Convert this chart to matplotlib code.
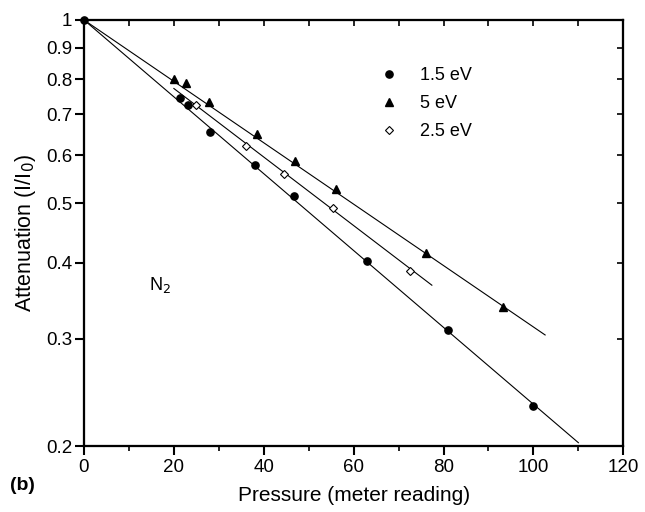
import numpy as np
import matplotlib
matplotlib.use("Agg")
import matplotlib.pyplot as plt
from matplotlib.ticker import FixedLocator, NullLocator, MultipleLocator

plt.rcParams['font.family'] = ['Liberation Sans', 'DejaVu Sans']

# Data
p_15 = [0, 21.4, 23.2, 28.0, 38.0, 46.7, 62.9, 81.1, 100.0]
a_15 = [1.0, 0.744, 0.726, 0.655, 0.579, 0.514, 0.4025, 0.310, 0.2324]

p_5 = [20.0, 22.6, 27.9, 38.5, 47.0, 56.0, 76.1, 93.2]
a_5 = [0.801, 0.787, 0.733, 0.651, 0.587, 0.529, 0.414, 0.338]

p_25 = [24.9, 36.0, 44.5, 55.3, 72.5]
a_25 = [0.725, 0.622, 0.559, 0.491, 0.3876]

# Fitted lines: log10 slope per unit pressure and plotted ranges
fit_15 = {"slope": -0.006305, "x0": 0.0, "x1": 110.0}
fit_5 = {"slope": -0.005037, "x0": 0.0, "x1": 102.6}
fit_25 = {"slope": -0.005622, "x0": 20.0, "x1": 77.4}

y_ticks = [0.2, 0.3, 0.4, 0.5, 0.6, 0.7, 0.8, 0.9, 1.0]
y_labels = ["0.2", "0.3", "0.4", "0.5", "0.6", "0.7", "0.8", "0.9", "1"]
x_ticks = [0, 20, 40, 60, 80, 100, 120]

fig = plt.figure(figsize=(6.45, 5.12), dpi=100)
ax = fig.add_axes([0.1302, 0.1289, 0.8362, 0.8321])
ax.set_yscale('log')
ax.set_xlim(0, 120)
ax.set_ylim(0.2, 1.0)

def fit_line(f):
    x = np.array([f["x0"], f["x1"]])
    return x, 10 ** (f["slope"] * x)

for f in (fit_15, fit_5, fit_25):
    x, y = fit_line(f)
    ax.plot(x, y, color='black', lw=0.8, zorder=2)

ax.plot(p_15, a_15, 'o', color='black', ms=5.2, ls='none', label='1.5 eV', clip_on=False, zorder=3)
ax.plot(p_5, a_5, '^', color='black', ms=6, ls='none', label='5 eV', zorder=3)
ax.plot(p_25, a_25, 'D', mfc='white', mec='black', mew=0.8, ms=4.2, ls='none', label='2.5 eV', zorder=3)

leg = ax.legend(loc='upper left', bbox_to_anchor=(0.519, 0.928), frameon=False,
                numpoints=1, handlelength=1.0, handletextpad=1.2, labelspacing=0.62,
                fontsize=13)

ax.yaxis.set_major_locator(FixedLocator(y_ticks))
ax.yaxis.set_minor_locator(NullLocator())
ax.set_yticks(y_ticks)
ax.set_yticklabels(y_labels)
ax.xaxis.set_major_locator(FixedLocator(x_ticks))
ax.xaxis.set_minor_locator(MultipleLocator(10))

for s in ax.spines.values():
    s.set_linewidth(1.5)

ax.tick_params(axis='x', which='major', direction='out', length=6.5, width=1.5, labelsize=13.5, pad=3)
ax.tick_params(axis='x', which='minor', direction='out', length=3.8, width=1.2)
ax.tick_params(axis='y', which='major', direction='out', length=6.5, width=1.5, labelsize=13.5, pad=2)

ax2 = ax.twiny()
ax2.set_xlim(ax.get_xlim())
ax2.xaxis.set_major_locator(MultipleLocator(10))
ax2.tick_params(axis='x', direction='in', length=4, width=1.2, labeltop=False)
ax3 = ax.twinx()
ax3.set_yscale('log')
ax3.set_ylim(ax.get_ylim())
ax3.yaxis.set_major_locator(FixedLocator(y_ticks))
ax3.yaxis.set_minor_locator(NullLocator())
ax3.tick_params(axis='y', direction='in', length=4, width=1.2, labelright=False)
for a in (ax2, ax3):
    for s in a.spines.values():
        s.set_linewidth(1.5)

ax.set_xlabel('Pressure (meter reading)', fontsize=15, labelpad=7)
ax.set_ylabel('Attenuation (I/I$_0$)', fontsize=15.5, labelpad=6)

ax.text(14.5, 0.367, 'N$_2$', fontsize=13, ha='left', va='center')
fig.text(0.016, 0.051, '(b)', fontsize=14, fontweight='bold', ha='left', va='center')

fig.savefig('out.png', dpi=100)
